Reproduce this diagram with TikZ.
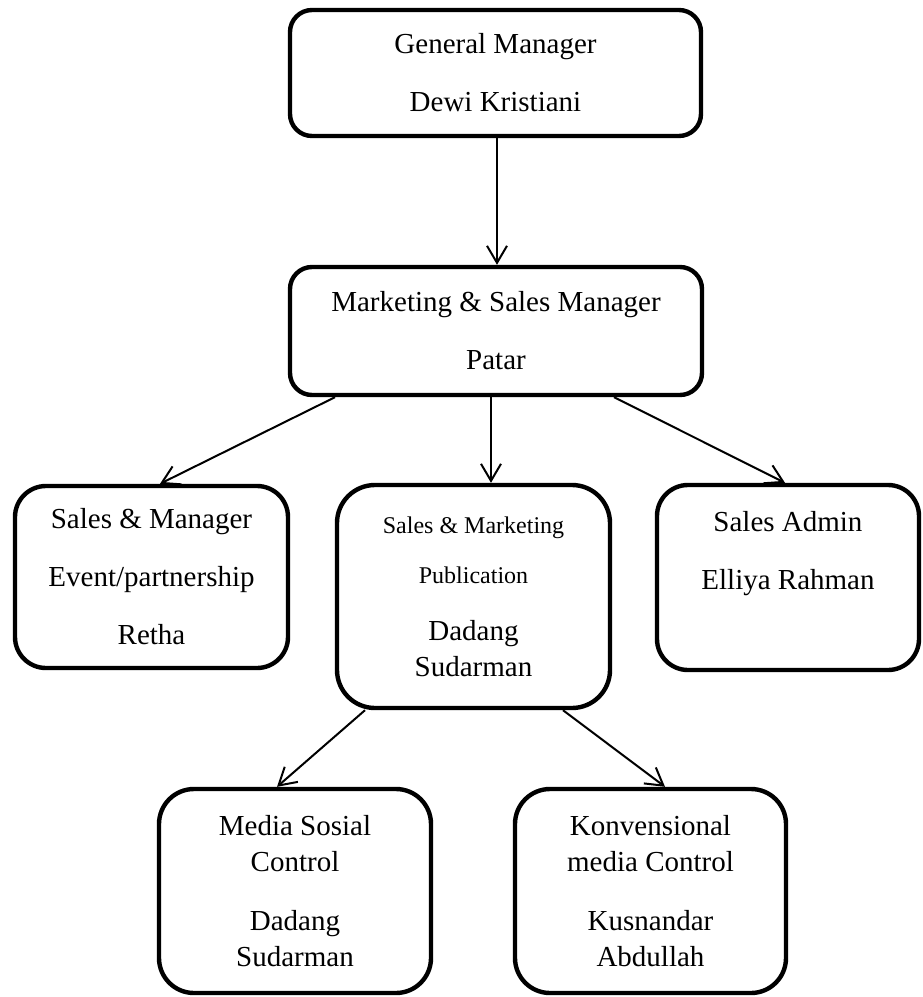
\documentclass[tikz,border=0pt]{standalone}
\usepackage{fontspec}
\setmainfont{Liberation Serif}
\usetikzlibrary{arrows.meta}
\begin{document}
\begin{tikzpicture}[x=0.5pt,y=-0.5pt,
  box/.style={draw=black, line width=2.2pt, rounded corners=#1, align=center,
    inner sep=0pt, font=\fontsize{14.5}{29}\selectfont},
  box/.default=11pt,
  tight/.style={font=\fontsize{14.5}{18}\selectfont},
  arr/.style={-{Straight Barb[length=8.5pt,width=10pt,line width=1pt]}, line width=1pt}]
\useasboundingbox (0,0) rectangle (922,997);

\node[box=11pt, minimum width=205.5pt, minimum height=63pt] (gm) at (495.5,73)
  {General Manager\\Dewi Kristiani};
\node[box=11pt, minimum width=206pt, minimum height=64pt] (msm) at (496,331)
  {Marketing \& Sales Manager\\Patar};
\node[box=15.5pt, minimum width=136.5pt, minimum height=91pt] (sm) at (151.5,577)
  {Sales \& Manager\\Event/partnership\\Retha};
\node[box=19pt, tight, minimum width=136.5pt, minimum height=111.5pt] (pub) at (473.5,596.5)
  {{\fontsize{12}{14}\selectfont Sales \& Marketing}\\[7pt]{\fontsize{12}{14}\selectfont Publication}\\[10.5pt]Dadang\\Sudarman};
\node[box=15.5pt, minimum width=131pt, minimum height=92.5pt] (sa) at (788,577.5)
  {Sales Admin\\Elliya Rahman\\[-2pt]};
\node[box=17.5pt, tight, minimum width=136pt, minimum height=102pt] (med) at (295,891)
  {Media Sosial\\Control\\[11.5pt]Dadang\\Sudarman};
\node[box=17.5pt, tight, minimum width=135.5pt, minimum height=102pt] (konv) at (650.5,891)
  {Konvensional\\media Control\\[11.5pt]Kusnandar\\Abdullah};

\draw[arr] ([xshift=0.75pt]gm.south) -- ([xshift=0.5pt]msm.north);
\draw[arr] ([xshift=-80.5pt]msm.south) -- ([xshift=4.25pt]sm.north);
\draw[arr] ([xshift=-2.5pt]msm.south) -- ([xshift=8.75pt]pub.north);
\draw[arr] ([xshift=59pt]msm.south) -- ([xshift=-1.5pt]sa.north);
\draw[arr] ([xshift=-54.25pt]pub.south) -- ([xshift=-9pt]med.north);
\draw[arr] ([xshift=44.75pt]pub.south) -- ([xshift=7.25pt]konv.north);
\end{tikzpicture}
\end{document}
